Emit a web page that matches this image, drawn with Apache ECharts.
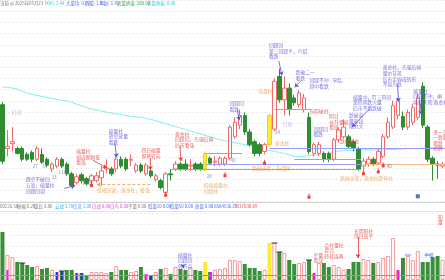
<!DOCTYPE html>
<html><head><meta charset="utf-8">
<script src="https://cdn.jsdelivr.net/npm/echarts@6/dist/echarts.min.js"></script>
<style>html,body{margin:0;padding:0;background:#fff}#c{width:445px;height:280px}</style>
</head><body><div id="c"></div>
<script>
// ---------- data ----------
function tradingDays(endStr, n){const out=[];const d=new Date(endStr+'T00:00:00Z');while(out.length<n){const w=d.getUTCDay();if(w!==0&&w!==6)out.unshift(d.toISOString().slice(0,10));d.setUTCDate(d.getUTCDate()-1);}return out;}
const categories = tradingDays('2025-05-23', 90);
// [open, close, low, high]
const candles = [
[2.95,2.37,2.34,2.98],[2.50,2.52,2.42,2.69],[2.55,2.57,2.47,2.72],[2.50,2.45,2.44,2.52],[2.50,2.39,2.37,2.52],
[2.44,2.39,2.37,2.46],[2.46,2.39,2.36,2.48],[2.39,2.50,2.37,2.52],[2.44,2.36,2.34,2.50],[2.39,2.33,2.31,2.41],
[2.29,2.34,2.26,2.36],[2.32,2.39,2.30,2.41],[2.39,2.32,2.30,2.41],[2.34,2.24,2.22,2.36],[2.24,2.12,2.10,2.26],
[2.15,2.21,2.13,2.24],[2.23,2.17,2.14,2.25],[2.19,2.14,2.12,2.21],[2.17,2.22,2.15,2.24],[2.17,2.22,2.15,2.26],
[2.20,2.27,2.12,2.32],[2.29,2.30,2.25,2.39],[2.29,2.24,2.22,2.31],[2.29,2.39,2.26,2.42],[2.39,2.32,2.30,2.42],
[2.39,2.29,2.27,2.41],[2.38,2.39,2.32,2.44],[2.27,2.33,2.25,2.35],[2.33,2.27,2.25,2.35],[2.24,2.33,2.22,2.35],
[2.27,2.22,2.20,2.29],[2.18,2.22,2.16,2.24],[2.17,2.10,2.08,2.19],[2.05,2.24,2.04,2.26],[2.24,2.23,2.17,2.29],
[2.29,2.34,2.27,2.37],[2.34,2.29,2.27,2.36],[2.34,2.29,2.27,2.39],[2.32,2.33,2.27,2.39],[2.34,2.29,2.27,2.36],
[2.34,2.29,2.27,2.36],[2.29,2.45,2.27,2.47],[2.40,2.35,2.33,2.42],[2.36,2.37,2.32,2.42],[2.34,2.40,2.32,2.42],
[2.34,2.40,2.32,2.42],[2.40,2.72,2.38,2.74],[2.62,2.77,2.60,2.82],[2.74,2.84,2.70,2.90],[2.84,2.67,2.64,2.87],
[2.67,2.54,2.52,2.70],[2.57,2.45,2.42,2.59],[2.54,2.45,2.42,2.56],[2.47,2.54,2.44,2.56],[2.54,2.84,2.52,2.86],
[2.70,3.19,2.68,3.22],[3.24,3.00,2.97,3.32],[3.00,3.12,2.84,3.24],[3.12,2.90,2.84,3.17],[3.02,2.97,2.94,3.05],
[2.95,3.07,2.92,3.10],[2.90,3.02,2.87,3.06],[2.82,2.47,2.44,2.87],[2.45,2.54,2.42,2.56],[2.45,2.54,2.42,2.57],
[2.45,2.39,2.36,2.47],[2.45,2.39,2.36,2.47],[2.39,2.59,2.37,2.61],[2.59,2.69,2.56,2.72],[2.62,2.72,2.60,2.80],
[2.62,2.52,2.50,2.64],[2.57,2.50,2.47,2.59],[2.50,2.29,2.27,2.52],[2.32,2.37,2.28,2.40],[2.34,2.39,2.31,2.42],
[2.39,2.34,2.32,2.41],[2.35,2.47,2.33,2.50],[2.42,2.62,2.40,2.65],[2.62,2.77,2.60,2.82],[2.72,2.94,2.70,2.99],
[2.84,2.99,2.80,3.02],[2.83,2.72,2.69,2.88],[2.72,2.87,2.69,2.90],[2.77,2.92,2.74,2.96],[2.82,3.02,2.79,3.06],
[3.14,2.74,2.71,3.18],[2.72,2.39,2.36,2.74],[2.40,2.34,2.17,2.42],[2.34,2.33,2.19,2.37],[2.32,2.34,2.30,2.36]
];
const ma60 = [
3.13,3.13,3.12,3.11,3.09,3.07,3.055,3.045,3.035,3.025,
3.015,3.005,2.995,2.99,2.975,2.955,2.94,2.92,2.905,2.895,
2.885,2.875,2.865,2.855,2.85,2.84,2.83,2.825,2.82,2.81,
2.80,2.785,2.77,2.755,2.74,2.725,2.71,2.695,2.68,2.665,
2.65,2.635,2.62,2.605,2.59,2.58,2.57,2.56,2.55,2.54,
2.53,2.52,2.51,2.495,2.48,2.47,2.46,2.45,2.435,2.42,
2.415,2.42,2.425,2.43,2.44,2.445,2.45,2.46,2.47,2.48,
2.48,2.48,2.48,2.485,2.485,2.485,2.49,2.49,2.49,2.49,
2.495,2.495,2.5,2.5,2.5,2.505,2.505,2.51,2.51,2.51];
const volumes = [
48,25,23,18,17,15,13,14,11,12, 10,8,9,10,10,7,7,5,8,8,
8,7,8,14,10,10,8,9,13,6, 5,8,11,12,6,13,11,10,13,10,
9,18,8,10,11,12,20,20,19,16, 12,12,9,10,37,37,28,27,20,16,
17,18,20,7,17,17,13,15,13,10, 11,18,18,21,20,17,18,22,24,42,
10,22,24,20,29,18,18,23,24,20];
const volumeBaseLine = 5;
const goldenBars = [41, 54];
const magentaBars = [[1,10],[29,6],[42,8],[63,7],[80,10]];
const blueBars = [[11,8],[12,9],[15,7],[16,7],[30,5]];
const volTicks = [[4,17],[12,9],[55,37],[56,28],[62,20]];
const volFlatTicks = [[82,25],[86,25]];
const signalDots = [[18,2.13],[33,2.03],[45,2.23],[53,2.36],[73,2.25],[76,2.27],[77,2.33],[62,2.01]];
const squareDots = [[84,2.01]];
// [fromIndex, toIndex, price, kind]
const supportLines = [[34,72,2.29,'s'],[41,72,2.34,'s'],[41,48,2.45,'s'],[54,89,2.50,'s'],[59,72,2.39,'s'],[55,62,2.90,'s'],[73,89,2.34,'o']];
// small day labels [x, price, text]
const dayTags = [[6.1,2.34,'27'],[8.1,2.34,'14'],[9.9,2.23,'33'],[11.3,2.28,'1318'],[16.1,2.17,'1589'],[41.3,2.24,'28'],[46.1,2.40,'43'],[55.1,2.69,'54'],[77.7,2.34,'40']];
// annotations [x, price, text, kind]
const notes = [
[1.9,2.90,'打劫','w'],[56.7,2.78,'打劫','w'],
[53.9,3.59,'回踩回\n第三回踩平，介绍\n看跌','p'],
[59.3,3.31,'跌破二一\n看跌','p'],
[62.1,3.23,'回踩不冲 - 孕乱,\n趋中看跌','p'],
[51.7,3.12,'洗盘柱','o'],
[45.9,2.99,'回踩回\n看跌','p'],
[55.1,2.58,'黄金柱','o'],
[50.5,2.33,'跌破支撑，先增柱','o'],
[40.7,2.15,'低吸缩量柱\n回踩柱','o'],
[34.9,2.68,'黄金柱\n回踩回，先强后弱\n后市看涨','r'],
[28.1,2.51,'四日缩量\n即将转向','r'],
[21.5,2.71,'缩量柱\n放空放量\n看跌','p'],
[14.9,2.50,'缩量柱\n创近期新低\n看涨','r'],
[4.7,2.21,'跳空不破回\n五浪，缩量柱\n回踩回调','p'],
[19.1,2.10,'低吸回调，黄金柱，看涨','o'],
[76.9,3.36,'黄金柱，先强后弱\n量价背离\n后市走弱成转折\n不易为跌','p'],
[70.9,3.06,'缩量中，叮三阵回\n第四阴跌大量\n后市不看跌破','p'],
[83.1,3.12,'缩量柱\n回踩不冲，喇\n两阴夹阳 黄金柱','p'],
[62.1,2.91,'长阴破柱','r'],
[66.1,2.86,'阴日\n价升量缩\n看涨','r'],
[70.1,2.87,'跌破前\n量能出\n阻力大','p'],
[62.9,2.73,'回踩回\n看跌','p'],
[68.3,2.60,'跌破黄金','r'],
[68.3,2.22,'跌破支撑，黄金柱跌停柱','o'],
[87.1,2.70,'多一次\n一跌量\n看跌\n必跌','r']
];
// arrows [[x1,p1],[x2,p2],kind]
const arrows = [
[[55.9,3.40],[56.5,3.25],'p'],[[60.3,3.19],[59.1,3.13],'p'],[[47.5,2.90],[47.9,2.79],'p'],
[[35.9,2.53],[36.1,2.37],'r'],[[29.9,2.40],[29.9,2.28],'r'],[[22.7,2.56],[23.1,2.41],'p'],
[[18.3,2.38],[21.1,2.30],'r'],[[12.5,2.09],[14.7,2.12],'p'],[[29.9,2.13],[19.1,2.13],'od'],
[[79.9,3.16],[80.1,2.98],'p'],[[74.3,2.91],[70.7,2.72],'p'],[[84.5,2.96],[84.7,2.85],'p']
];
// volume annotations [x, volume, text, kind]
const volNotes = [
[35.5,28,'缩量柱\n回踩回\n转折点','p'],[62.9,28,'平量\n看涨','r'],[65.1,38,'合并量柱\n提点\n转转连两','r'],
[71.1,52,'长阴阳柱\n持日高平','r'],[85.3,28,'平量','b'],[88.1,66,'阳\n量','r']
];
const volArrows = [[[36.5,15],[36.5,12],'p'],[[71.9,43],[71.9,22],'r']];

// ---------- styles ----------
const FONT = '"Noto Sans CJK SC"';
const COL = {p:'#5a4fd0', r:'#e23a3a', o:'#f09a40', w:'#b4a8ea', b:'#4a6cf0', od:'#f09a40', s:'#9c9cf4'};
const UP = '#f06a6a', DOWN = '#2f8c2f', GOLD = '#ffec2e';

const candleData = candles.map((c,i)=> goldenBars.includes(i)
  ? {value:c, itemStyle:{color:GOLD, borderColor:'#f0d020', color0:GOLD, borderColor0:'#f0d020'}} : c);
const volData = volumes.map((v,i)=>{
  const up = candles[i][1] >= candles[i][0];
  let st = up ? {color:'#fff', borderColor:'#f39a9a', borderWidth:1} : {color:'#3a8f3a'};
  if (goldenBars.includes(i)) st = {color:GOLD};
  return {value:v, itemStyle:st};
});
function sparse(list){const a=new Array(categories.length).fill('-');list.forEach(([i,v])=>a[i]=v);return a;}

const noteLabel = (kind)=>({show:true, position:[0,0], align:'left', verticalAlign:'top',
  color:COL[kind], fontSize:4.8, lineHeight:5.6, fontFamily:FONT});

const option = {
  animation:false,
  backgroundColor:'#ffffff',
  grid:[
    {left:-2, right:-3, top:-0.5, height:287.5},
    {left:-2, right:-3, top:214, height:66}
  ],
  xAxis:[
    {type:'category', gridIndex:0, data:categories, boundaryGap:true, show:false},
    {type:'value', gridIndex:0, min:-0.5, max:89.5, show:false},
    {type:'category', gridIndex:1, data:categories, boundaryGap:true, show:false},
    {type:'value', gridIndex:1, min:-0.5, max:89.5, show:false}
  ],
  yAxis:[
    {type:'value', gridIndex:0, min:1.15, max:4.025, interval:0.115, axisLabel:{show:false}, axisLine:{show:false}, axisTick:{show:false},
     splitLine:{show:true, lineStyle:{color:'#ececec', type:[2,2], width:1}}},
    {type:'value', gridIndex:1, min:0, max:66, show:false, splitLine:{show:false}}
  ],
  series:[
    {type:'line', xAxisIndex:0, yAxisIndex:0, data:ma60, symbol:'none', lineStyle:{color:'#7ff0f0', width:1}, silent:true, z:2},
    {type:'candlestick', xAxisIndex:0, yAxisIndex:0, data:candleData, barWidth:4, clip:false, z:3,
     itemStyle:{color:'#ffffff', color0:DOWN, borderColor:UP, borderColor0:DOWN, borderWidth:1}},
    {type:'scatter', xAxisIndex:0, yAxisIndex:0, data:signalDots, symbol:'path://M1 0 H2 V2 H3 V5 H0 V2 H1 Z', symbolSize:[3,5], itemStyle:{color:'#ee1111'}, z:5},
    {type:'scatter', xAxisIndex:0, yAxisIndex:0, data:squareDots, symbol:'rect', symbolSize:[4,4], itemStyle:{color:'#35588a'}, z:5},
    {type:'scatter', xAxisIndex:1, yAxisIndex:0, symbolSize:0, z:6,
     data: dayTags.map(t=>({value:[t[0],t[1]], label:{show:true, position:[0,0], align:'left', verticalAlign:'top', formatter:t[2], color:'#5a6aa8', fontSize:4.6, fontFamily:FONT}})),
    },
    {type:'scatter', xAxisIndex:1, yAxisIndex:0, symbolSize:0, z:6,
     data: notes.map(n=>({value:[n[0],n[1]], label:Object.assign(noteLabel(n[3]), {formatter:n[2]})})),
     markLine:{silent:true, symbol:'none', label:{show:false}, animation:false,
       data: supportLines.map(l=>[{coord:[l[0],l[2]], lineStyle:{color: l[3]==='o'?'#f5b880':COL.s, width:1, type:'solid'}},{coord:[l[1]+0.5,l[2]]}])
         .concat(arrows.map(a=>[{coord:a[0], symbol:'none', lineStyle:{color:COL[a[2]], width:0.8, type: a[2]==='od'?[3,2]:'solid'}},{coord:a[1], symbol:'arrow', symbolSize:4}]))
     }
    },
    // volume
    {type:'bar', xAxisIndex:2, yAxisIndex:1, data:volData, barWidth:4, z:2,
     markLine:{silent:true, symbol:'none', label:{show:false}, data:[{yAxis:volumeBaseLine}], lineStyle:{color:'#ff6a6a', width:1, type:'solid'}}},
    {type:'pictorialBar', xAxisIndex:2, yAxisIndex:1, data:sparse(magentaBars), symbol:'rect', symbolSize:[2,'100%'], itemStyle:{color:'#e020e0'}, z:3},
    {type:'pictorialBar', xAxisIndex:2, yAxisIndex:1, data:sparse(blueBars), symbol:'rect', symbolSize:[2,'100%'], itemStyle:{color:'#1c2fd6'}, z:3},
    {type:'scatter', xAxisIndex:2, yAxisIndex:1, data:volTicks, symbol:'rect', symbolSize:[6,1.2], itemStyle:{color:'#333'}, z:4},
    {type:'scatter', xAxisIndex:2, yAxisIndex:1, data:volFlatTicks, symbol:'rect', symbolSize:[6,1.2], itemStyle:{color:'#6a7cf0'}, z:4},
    {type:'scatter', xAxisIndex:3, yAxisIndex:1, symbolSize:0, z:6,
     data: volNotes.map(n=>({value:[n[0],n[1]], label:Object.assign(noteLabel(n[3]), {formatter:n[2]})})),
     markLine:{silent:true, label:{show:false},
       data: volArrows.map(a=>[{coord:a[0], symbol:'none', lineStyle:{color:COL[a[2]], width:0.8, type:'solid'}},{coord:a[1], symbol:'arrow', symbolSize:4}])}
    }
  ],
  graphic:[
    {type:'rect', shape:{x:0,y:203,width:445,height:8}, style:{fill:'#ffffff'}, z:1},
    {type:'line', shape:{x1:0,y1:202.5,x2:445,y2:202.5}, style:{stroke:'#cfcfcf', lineWidth:1}},
    {type:'line', shape:{x1:0,y1:211.5,x2:445,y2:211.5}, style:{stroke:'#e6e6e6', lineWidth:1}}
  ]
};
// header and info row texts
const header = [[0,'当前 @ 2025年05月23','#777'],[45,'MA5: 2.44','#2ccfcf'],[66,'大量均: 0.00','#4a6cf0'],[85,'凸量: 1.00','#4a6cf0'],
  [100,'0.赵: 3.70','#4a6cf0'],[117,'底量承接: 280.00','#3aa63a'],[147,'底量承接: 0.00','#2ccfcf']];
const info = [[0,'00226.50','#777'],[17,'振幅 6.20','#777'],[34,'量比 3.86','#777'],[55,'云战 3.70','#2cb8e0'],[73,'信息 1.00','#4a9cf0'],
  [92,'白战 0.00','#e040e0'],[110,'白鸟 0.00','#e040e0'],[128,'平量 0.00','#777'],[148,'低量10 0.00','#4a6cf0'],[170,'低量50 0.00','#4a6cf0'],
  [195,'放量 0.00','#4a6cf0'],[212,': 8584536.79','#4a6cf0'],[232,': 3137030.69','#e04a4a']];
header.forEach(h=>option.graphic.push({type:'text', x:h[0], y:1.5, z:10, style:{text:h[1], fill:h[2], font:'4.4px '+FONT}}));
info.forEach(h=>option.graphic.push({type:'text', x:h[0], y:204.5, z:10, style:{text:h[1], fill:h[2], font:'4.4px '+FONT}}));

const chart = echarts.init(document.getElementById('c'), null, {renderer:'canvas'});
chart.setOption(option);
</script></body></html>
